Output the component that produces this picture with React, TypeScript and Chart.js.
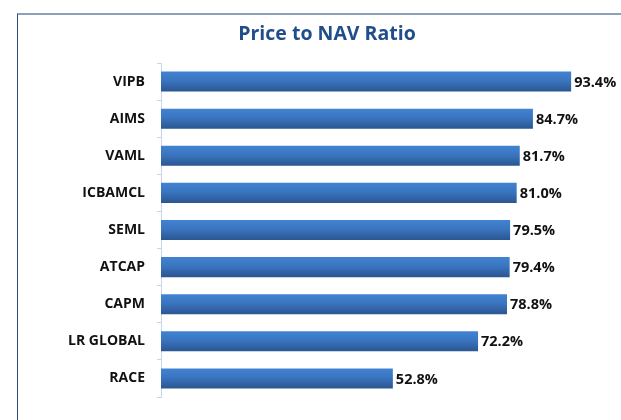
import React, { useEffect, useRef } from "react";
import { Chart, registerables } from "chart.js";

Chart.register(...registerables);

const categories = ["VIPB", "AIMS", "VAML", "ICBAMCL", "SEML", "ATCAP", "CAPM", "LR GLOBAL", "RACE"];
const ratios = [93.4, 84.7, 81.7, 81.0, 79.5, 79.4, 78.8, 72.2, 52.8];
const titleText = "Price to NAV Ratio";

const FONT = "'Open Sans', 'DejaVu Sans', sans-serif";

const valueLabels = {
  id: "valueLabels",
  afterDatasetsDraw(chart: any) {
    const ctx = chart.ctx;
    const meta = chart.getDatasetMeta(0);
    ctx.save();
    ctx.font = `bold 14.5px ${FONT}`;
    ctx.fillStyle = "#111111";
    ctx.textAlign = "left";
    ctx.textBaseline = "middle";
    meta.data.forEach((bar: any, i: number) => {
      ctx.fillText(ratios[i].toFixed(1) + "%", bar.x + 3, bar.y + 1);
    });
    ctx.restore();
  },
};

export default function App() {
  const ref = useRef<HTMLCanvasElement | null>(null);
  useEffect(() => {
    if (!ref.current) return;
    const chart = new Chart(ref.current, {
      type: "bar",
      data: {
        labels: categories,
        datasets: [
          {
            data: ratios,
            backgroundColor: (c: any) => {
              const { chart, dataIndex } = c;
              const ys = chart.scales && chart.scales.y;
              const area = chart.chartArea;
              if (!ys || !area) return "#3a74bd";
              const cy = ys.getPixelForValue(dataIndex);
              if (!isFinite(cy)) return "#3a74bd";
              const h = ((area.bottom - area.top) / categories.length) * 0.54;
              const g = chart.ctx.createLinearGradient(0, cy - h / 2, 0, cy + h / 2);
              g.addColorStop(0, "#4183d2");
              g.addColorStop(0.45, "#3a75c0");
              g.addColorStop(1, "#2b5690");
              return g;
            },
            borderWidth: 0,
            categoryPercentage: 0.54,
            barPercentage: 1,
          },
        ],
      },
      options: {
        indexAxis: "y",
        animation: false,
        responsive: false,
        maintainAspectRatio: false,
        layout: { padding: { left: 0, right: 0, top: 0, bottom: 23 } },
        plugins: {
          legend: { display: false },
          tooltip: { enabled: false },
          title: {
            display: true,
            text: titleText,
            color: "#1f4e8a",
            font: { family: FONT, size: 19.5, weight: "bold" },
            padding: { top: 10, bottom: 16.6 },
          },
        },
        scales: {
          x: {
            display: false,
            min: 0,
            max: 108.4,
          },
          y: {
            afterFit: (s: any) => {
              s.width = 144;
            },
            grid: {
              display: true,
              drawOnChartArea: false,
              drawTicks: true,
              tickLength: 4,
              color: "#c9d5e8",
              offset: true,
            },
            border: { display: true, color: "#c9d5e8", width: 1 },
            ticks: {
              color: "#111111",
              padding: 12,
              font: { family: FONT, size: 14, weight: "bold" },
            },
          },
        },
      },
      plugins: [valueLabels],
    });
    return () => chart.destroy();
  }, []);

  return (
    <div style={{ position: "absolute", left: 0, top: 0, width: 621, height: 420, overflow: "hidden", background: "#fff" }}>
      <div
        style={{
          position: "absolute",
          left: 17,
          top: 13,
          width: 640,
          height: 440,
          borderLeft: "1px solid #2c4a7a",
          borderTop: "2px solid #8aa0bb",
          boxSizing: "border-box",
        }}
      />
      <canvas ref={ref} width={620} height={407} style={{ position: "absolute", left: 17, top: 13, width: 620, height: 407 }} />
    </div>
  );
}
